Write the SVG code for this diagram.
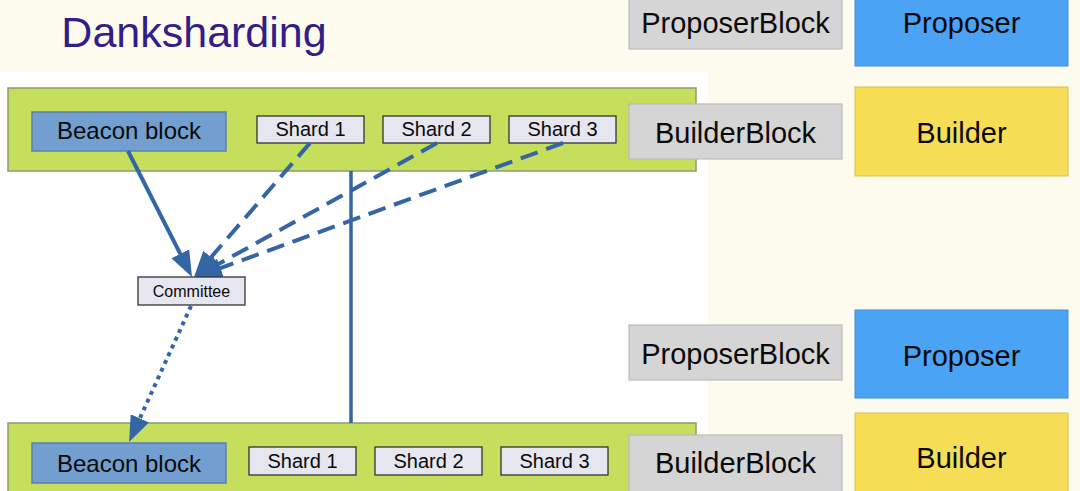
<svg xmlns="http://www.w3.org/2000/svg" width="1080" height="491" viewBox="0 0 1080 491">
<style>
text{font-family:"Liberation Sans",Arial,sans-serif;fill:#0a0a0a;text-anchor:middle}
.bar{fill:#c5df5c;stroke:#8c9c72;stroke-width:1.5}
.beacon{fill:#729fcf;stroke:#5b7fae;stroke-width:1.5}
.shard{fill:#e6e6f0;stroke:#333;stroke-width:1.3}
.pb{fill:#d5d5d5;stroke:#bcbcbc;stroke-width:1.2}
.prop{fill:#4aa3f4;stroke:#3b8fd8;stroke-width:1}
.build{fill:#f5de55;stroke:#d8c24a;stroke-width:1}
.big{font-size:29px}
.mid{font-size:24px}
.sm{font-size:20px}
.xs{font-size:16px}
.ln{fill:none;stroke:#3465a4;stroke-width:4}
</style>
<defs>
<marker id="ah" markerUnits="userSpaceOnUse" viewBox="0 0 26 20" markerWidth="26" markerHeight="20" refX="16" refY="10" orient="auto">
<path d="M0,0 L26,10 L0,20 z" fill="#3465a4"/>
</marker>
</defs>
<rect width="1080" height="491" fill="#fdfbee"/>
<rect x="0" y="72" width="708" height="419" fill="#ffffff"/>
<text x="194" y="47" style="font-size:43px;fill:#331d88">Danksharding</text>

<g id="bar-top"><rect class="bar" x="8" y="88" width="688" height="83"/></g>
<g id="bar-bottom"><rect class="bar" x="8" y="423" width="688" height="75"/></g>

<g id="beacon-top"><rect class="beacon" x="32" y="112" width="194" height="39"/><text class="mid" x="129" y="139">Beacon block</text></g>
<g id="shard1-top"><rect class="shard" x="257" y="116" width="107" height="27"/><text class="sm" x="310.5" y="136">Shard 1</text></g>
<g id="shard2-top"><rect class="shard" x="383" y="116" width="107" height="27"/><text class="sm" x="436.5" y="136">Shard 2</text></g>
<g id="shard3-top"><rect class="shard" x="509" y="116" width="107" height="27"/><text class="sm" x="562.5" y="136">Shard 3</text></g>

<g id="beacon-bottom"><rect class="beacon" x="32" y="443" width="194" height="40"/><text class="mid" x="129" y="472">Beacon block</text></g>
<g id="shard1-bottom"><rect class="shard" x="249" y="447" width="107" height="28"/><text class="sm" x="302.5" y="468">Shard 1</text></g>
<g id="shard2-bottom"><rect class="shard" x="375" y="447" width="107" height="28"/><text class="sm" x="428.5" y="468">Shard 2</text></g>
<g id="shard3-bottom"><rect class="shard" x="501" y="447" width="107" height="28"/><text class="sm" x="554.5" y="468">Shard 3</text></g>

<g id="proposerblock-top"><rect class="pb" x="629" y="-2" width="213" height="51"/><text class="big" x="735.5" y="33">ProposerBlock</text></g>
<g id="proposer-top"><rect class="prop" x="855" y="-2" width="213" height="68"/><text class="big" x="961.5" y="33">Proposer</text></g>
<g id="builderblock-top"><rect class="pb" x="629" y="104" width="213" height="55"/><text class="big" x="735.5" y="143">BuilderBlock</text></g>
<g id="builder-top"><rect class="build" x="855" y="87" width="213" height="89"/><text class="big" x="961.5" y="143">Builder</text></g>

<g id="proposerblock-bottom"><rect class="pb" x="629" y="325" width="213" height="55"/><text class="big" x="735.5" y="364">ProposerBlock</text></g>
<g id="proposer-bottom"><rect class="prop" x="855" y="310" width="213" height="88"/><text class="big" x="961.5" y="366">Proposer</text></g>
<g id="builderblock-bottom"><rect class="pb" x="629" y="435" width="213" height="60"/><text class="big" x="735.5" y="473">BuilderBlock</text></g>
<g id="builder-bottom"><rect class="build" x="855" y="413" width="213" height="82"/><text class="big" x="961.5" y="468">Builder</text></g>

<g id="connectors">
<line class="ln" x1="128" y1="151" x2="187.5" y2="268.1" marker-end="url(#ah)"/>
<line class="ln" x1="310" y1="143" x2="200.5" y2="269.4" stroke-dasharray="18 9" marker-end="url(#ah)"/>
<line class="ln" x1="437" y1="143" x2="203.7" y2="272.2" stroke-dasharray="18 9" marker-end="url(#ah)"/>
<line class="ln" x1="563" y1="143" x2="205.4" y2="273.6" stroke-dasharray="18 9" marker-end="url(#ah)"/>
<line class="ln" x1="351" y1="171" x2="351" y2="423" style="stroke-width:3.5"/>
<line class="ln" x1="191" y1="306" x2="133.2" y2="432.9" stroke-dasharray="4 4.5" marker-end="url(#ah)"/>
</g>

<g id="committee"><rect class="shard" x="138" y="277" width="107" height="28"/><text class="xs" x="191.5" y="297">Committee</text></g>
</svg>
